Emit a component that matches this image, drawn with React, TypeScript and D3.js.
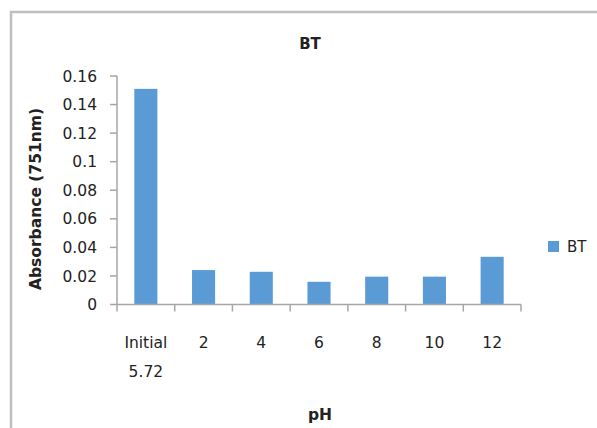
import React from "react";
import * as d3 from "d3";

const categories = ["Initial\n5.72", "2", "4", "6", "8", "10", "12"];
const values = [0.151, 0.0241, 0.0229, 0.0159, 0.0195, 0.0195, 0.0334];
const yTicks = [0, 0.02, 0.04, 0.06, 0.08, 0.1, 0.12, 0.14, 0.16];
const seriesName = "BT";
const title = "BT";
const xTitle = "pH";
const yTitle = "Absorbance (751nm)";

const W = 597;
const H = 428;
const FONT = "'DejaVu Sans', sans-serif";
const BAR = "#5B9BD5";
const AXIS = "#A6A6A6";

export default function App() {
  const x = d3.scaleBand<string>().domain(categories).range([117, 521]).paddingInner(0.6).paddingOuter(0.3);
  const xb = d3.scaleBand<string>().domain(categories).range([117, 521]);
  const y = d3.scaleLinear().domain([0, 0.16]).range([304.5, 76]);
  const fmt = (v: number) => (v === 0 ? "0" : String(+v.toFixed(2)));

  return (
    <svg width={W} height={H} style={{ position: "absolute", left: 0, top: 0, background: "#fff" }} fontFamily={FONT}>
      <rect x={0} y={0} width={W} height={H} fill="#fff" />
      {/* frame */}
      <path d={`M11,${H} V12 H${W}`} fill="none" stroke="#BFBFBF" strokeWidth={2.5} />
      {/* title */}
      <text x={310} y={49} textAnchor="middle" fontSize={15} fontWeight="bold" fill="#222">{title}</text>
      {/* bars */}
      {categories.map((c, i) => (
        <rect key={c} x={x(c)} y={y(values[i])} width={x.bandwidth()} height={y(0) - y(values[i])} fill={BAR} />
      ))}
      {/* y axis */}
      <line x1={117} x2={117} y1={y(0.16)} y2={y(0)} stroke={AXIS} strokeWidth={1.5} />
      {yTicks.map((t) => (
        <g key={t}>
          <line x1={110} x2={117} y1={y(t)} y2={y(t)} stroke={AXIS} strokeWidth={1.5} />
          <text x={97} y={y(t)} dy="0.36em" textAnchor="end" fontSize={15.5} fill="#222">{fmt(t)}</text>
        </g>
      ))}
      {/* x axis */}
      <line x1={117} x2={521} y1={y(0)} y2={y(0)} stroke={AXIS} strokeWidth={1.5} />
      {categories.map((c) => (
        <line key={"t" + c} x1={xb(c)} x2={xb(c)} y1={y(0)} y2={y(0) + 7} stroke={AXIS} strokeWidth={1.5} />
      ))}
      <line x1={521} x2={521} y1={y(0)} y2={y(0) + 7} stroke={AXIS} strokeWidth={1.5} />
      {categories.map((c) => {
        const lines = c.split("\n");
        const cx = (xb(c) as number) + xb.bandwidth() / 2;
        return (
          <text key={"l" + c} x={cx} y={348} textAnchor="middle" fontSize={15.5} fill="#222">
            {lines.map((ln, j) => (
              <tspan key={j} x={cx} dy={j === 0 ? 0 : 29}>{ln}</tspan>
            ))}
          </text>
        );
      })}
      {/* axis titles */}
      <text x={320} y={420} textAnchor="middle" fontSize={15.5} fontWeight="bold" fill="#222">{xTitle}</text>
      <text transform="translate(41,199) rotate(-90)" textAnchor="middle" fontSize={15.5} fontWeight="bold" fill="#222">{yTitle}</text>
      {/* legend */}
      <rect x={548} y={241} width={11} height={11} fill={BAR} />
      <text x={567} y={247} dy="0.36em" fontSize={15} fill="#222">{seriesName}</text>
    </svg>
  );
}
